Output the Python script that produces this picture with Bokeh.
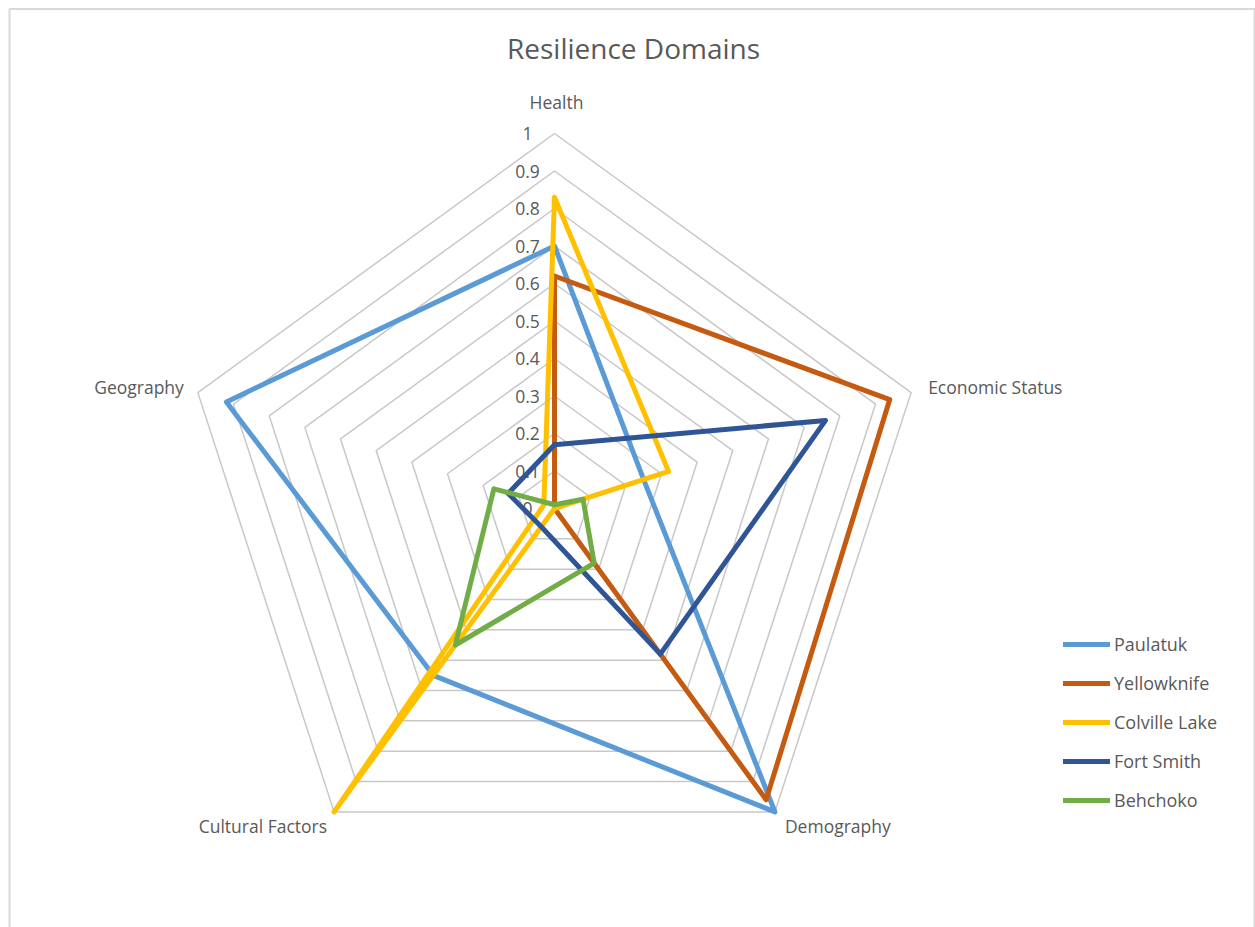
import numpy as np
from bokeh.plotting import figure
from bokeh.models import Range1d, Legend, LegendItem, ColumnDataSource
from bokeh.core.properties import value
from bokeh.embed import file_html
from bokeh.resources import INLINE

# ---------------- data ----------------
categories = ["Health", "Economic Status", "Demography", "Cultural Factors", "Geography"]
series_names = ["Paulatuk", "Yellowknife", "Colville Lake", "Fort Smith", "Behchoko"]
paulatuk = [0.70, 0.25, 1.00, 0.55, 0.92]
yellowknife = [0.62, 0.94, 0.96, 0.00, 0.00]
colville_lake = [0.83, 0.32, 0.00, 1.00, 0.03]
fort_smith = [0.17, 0.76, 0.48, 0.06, 0.13]
behchoko = [0.01, 0.08, 0.18, 0.45, 0.17]
tick_values = [0.0, 0.1, 0.2, 0.3, 0.4, 0.5, 0.6, 0.7, 0.8, 0.9, 1.0]
tick_labels = ["0", "0.1", "0.2", "0.3", "0.4", "0.5", "0.6", "0.7", "0.8", "0.9", "1"]
title_text = "Resilience Domains"

# ---------------- styles ----------------
colors = ["#5B9BD5", "#C55A11", "#FFC000", "#2F5597", "#70AD47"]
TEXT = "#595959"
FONT = "Open Sans"

W, H = 1255, 927
CX, CY, RPX = 554, 508, 375.0  # centre and unit radius in pixels


def px2x(px):
    return (px - CX) / RPX


def py2y(py):
    return (CY - py) / RPX


p = figure(width=W, height=H, output_backend="svg", toolbar_location=None,
           x_range=Range1d(px2x(0), px2x(W)), y_range=Range1d(py2y(H), py2y(0)),
           x_axis_type=None, y_axis_type=None, min_border=0,
           background_fill_color="white", border_fill_color="white")
p.outline_line_color = None

# chart-area frame
p.quad(left=[px2x(9)], right=[px2x(1254)], top=[py2y(8.5)], bottom=[py2y(H + 20)],
       fill_color=None, line_color="#d9d9d9", line_width=2)

n = len(categories)
angles = np.pi / 2 - np.arange(n) * 2 * np.pi / n
ca, sa = np.cos(angles), np.sin(angles)

# grid rings
ring_xs, ring_ys = [], []
for t in tick_values[1:]:
    ring_xs.append(list(np.append(ca * t, ca[0] * t)))
    ring_ys.append(list(np.append(sa * t, sa[0] * t)))
p.multi_line(ring_xs, ring_ys, line_color="#c8c8c8", line_width=1.5)

# radial tick labels
p.text(x=[px2x(527)] * len(tick_values), y=tick_values, text=tick_labels,
       text_font=value(FONT), text_font_size="17.5px", text_color=TEXT,
       text_align="center", text_baseline="middle")

# category labels (offsets in pixels from the 1.0 vertex)
lab_dx = [2, 17, 10, -7, -14]
lab_dy = [-32, -6, 14, 14, -6]
lab_align = ["center", "left", "left", "right", "right"]
lx = [ca[i] + lab_dx[i] / RPX for i in range(n)]
ly = [sa[i] - lab_dy[i] / RPX for i in range(n)]
src = ColumnDataSource(dict(x=lx, y=ly, t=categories, a=lab_align))
p.text(x="x", y="y", text="t", text_align="a", source=src,
       text_font=value(FONT), text_font_size="17.5px", text_color=TEXT,
       text_baseline="middle")

# title
p.text(x=[px2x(633)], y=[py2y(47)], text=[title_text], text_font=value(FONT),
       text_font_size="28px", text_color=TEXT, text_align="center",
       text_baseline="middle")

# series
all_series = [paulatuk, yellowknife, colville_lake, fort_smith, behchoko]
items = []
for name, vals, col in zip(series_names, all_series, colors):
    v = np.array(vals)
    xs = list(np.append(ca * v, ca[0] * v[0]))
    ys = list(np.append(sa * v, sa[0] * v[0]))
    r = p.line(xs, ys, line_color=col, line_width=5, line_join="round", line_cap="round")
    items.append(LegendItem(label=name, renderers=[r]))

legend = Legend(items=items, location=(1063, 115), orientation="vertical",
                glyph_width=47, glyph_height=20, label_height=20, spacing=15,
                label_standoff=4, padding=0, margin=0,
                label_text_font=FONT, label_text_font_size="18px",
                label_text_color=TEXT, border_line_color=None,
                background_fill_alpha=0)
p.add_layout(legend)

open("out.html", "w").write(file_html(p, INLINE))
